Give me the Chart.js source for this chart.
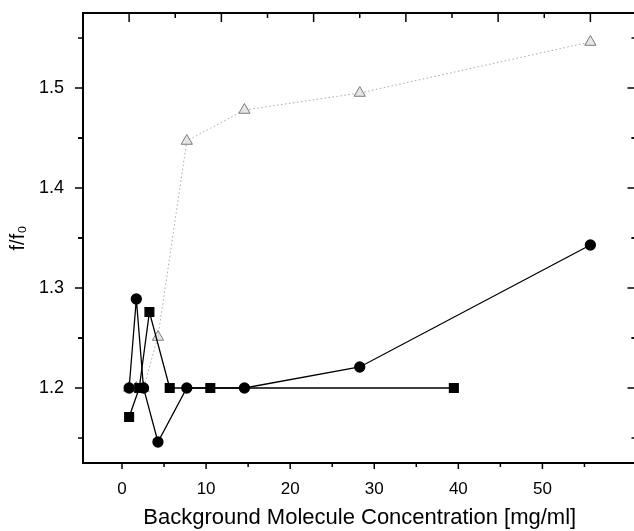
<!DOCTYPE html>
<html>
<head>
<meta charset="utf-8">
<script src="https://cdn.jsdelivr.net/npm/chart.js@4.4.1/dist/chart.umd.min.js"></script>
<style>
html, body { margin: 0; padding: 0; overflow: hidden; background: #fff; }
</style>
</head>
<body>
<canvas id="myChart" width="644" height="531"></canvas>
<script>
// concentrations [mg/ml] and f/f0 for the three series
const circleX = [0, 0.78, 1.56, 3.125, 6.25, 12.5, 25, 50];
const circleY = [1.2, 1.289, 1.2, 1.146, 1.2, 1.2, 1.221, 1.343];
const squareX = [0, 1.1, 2.2, 4.4, 8.8, 35.2];
const squareY = [1.171, 1.2, 1.276, 1.2, 1.2, 1.2];
const triangleX = [0, 0.78, 1.56, 3.125, 6.25, 12.5, 25, 50];
const triangleY = [1.2, 1.2, 1.2, 1.251, 1.447, 1.478, 1.495, 1.546];
const xTickLabels = [0, 10, 20, 30, 40, 50];
const yTickLabels = [1.2, 1.3, 1.4, 1.5];

const toPoints = (xs, ys) => xs.map((x, i) => ({ x: x, y: ys[i] }));
const FONT = "'Liberation Sans', Arial, sans-serif";

// frame and tick marks (Origin style)
const frame = {
	id: "frame",
	afterDatasetsDraw(chart) {
		const { ctx, chartArea: a, scales } = chart;
		const line = (x1, y1, x2, y2) => {
			ctx.beginPath();
			ctx.moveTo(x1, y1);
			ctx.lineTo(x2, y2);
			ctx.stroke();
		};
		ctx.save();
		ctx.strokeStyle = "#000";
		ctx.lineWidth = 2;
		ctx.strokeRect(a.left, a.top, a.right - a.left, a.bottom - a.top);
		ctx.lineWidth = 1.5;
		xTickLabels.forEach(v => {
			let p = scales.x.getPixelForValue(v);
			line(p, a.bottom, p, a.bottom + 6);
			p = scales.x.getPixelForValue(v + 5);
			line(p, a.bottom, p, a.bottom + 4);
			p = scales.x2.getPixelForValue(v);
			line(p, a.top, p, a.top + 9);
			p = scales.x2.getPixelForValue(v + 5);
			line(p, a.top, p, a.top + 5);
		});
		yTickLabels.forEach(v => {
			let p = scales.y.getPixelForValue(v);
			line(a.left - 8, p, a.left, p);
			line(a.right - 9, p, a.right, p);
			[v - 0.05, v + 0.05].forEach(m => {
				const q = scales.y.getPixelForValue(m);
				line(a.left - 5, q, a.left, q);
				line(a.right - 5, q, a.right, q);
			});
		});
		ctx.restore();
	}
};

new Chart(document.getElementById("myChart"), {
	type: "line",
	data: {
		datasets: [
			{
				label: "circles",
				data: toPoints(circleX, circleY),
				xAxisID: "x2",
				borderColor: "#000",
				backgroundColor: "#000",
				borderWidth: 1.3,
				pointStyle: "circle",
				pointRadius: 5,
				order: 1
			},
			{
				label: "squares",
				data: toPoints(squareX, squareY),
				xAxisID: "x2",
				borderColor: "#000",
				backgroundColor: "#000",
				borderWidth: 1.3,
				pointStyle: "rect",
				pointRadius: 6.2,
				order: 2
			},
			{
				label: "triangles",
				data: toPoints(triangleX, triangleY),
				xAxisID: "x2",
				borderColor: "#a8a8a8",
				borderWidth: 1,
				borderDash: [1.5, 2.5],
				pointStyle: "triangle",
				pointRadius: 6.5,
				pointBackgroundColor: "rgba(225,225,225,0.8)",
				pointBorderColor: "#7a7a7a",
				pointBorderWidth: 1,
				order: 3
			}
		]
	},
	options: {
		responsive: false,
		animation: false,
		layout: { padding: { top: 13, right: 0, left: 0, bottom: 0 } },
		plugins: {
			legend: { display: false },
			tooltip: { enabled: false }
		},
		scales: {
			x: {
				type: "linear",
				position: "bottom",
				min: -4.64,
				max: 61.19,
				afterBuildTicks: s => { s.ticks = xTickLabels.map(v => ({ value: v })); },
				afterFit: s => { s.height = 68; s.paddingLeft = 0; s.paddingRight = 0; },
				grid: { display: false, drawTicks: false },
				border: { display: false },
				ticks: {
					padding: 16,
					color: "#000",
					maxRotation: 0,
					autoSkip: false,
					font: { family: FONT, size: 17 }
				},
				title: {
					display: true,
					text: "Background Molecule Concentration [mg/ml]",
					color: "#000",
					font: { family: FONT, size: 22 },
					padding: { top: 0, bottom: 0 }
				}
			},
			x2: {
				type: "linear",
				position: "top",
				min: -5,
				max: 55,
				afterBuildTicks: s => { s.ticks = []; },
				afterFit: s => { s.height = 0; s.paddingLeft = 0; s.paddingRight = 0; },
				grid: { display: false, drawTicks: false },
				border: { display: false },
				ticks: { display: false }
			},
			y: {
				type: "linear",
				min: 1.125,
				max: 1.575,
				afterBuildTicks: s => { s.ticks = yTickLabels.map(v => ({ value: v })); },
				afterFit: s => { s.width = 83; s.paddingTop = 0; s.paddingBottom = 0; },
				grid: { display: false, drawTicks: false },
				border: { display: false },
				ticks: {
					padding: 19,
					color: "#000",
					font: { family: FONT, size: 18 },
					callback: v => v.toFixed(1)
				},
				title: {
					display: true,
					text: "f/f₀",
					color: "#000",
					font: { family: FONT, size: 20 },
					padding: { top: 6, bottom: 0 }
				}
			}
		}
	},
	plugins: [frame]
});
</script>
</body>
</html>
